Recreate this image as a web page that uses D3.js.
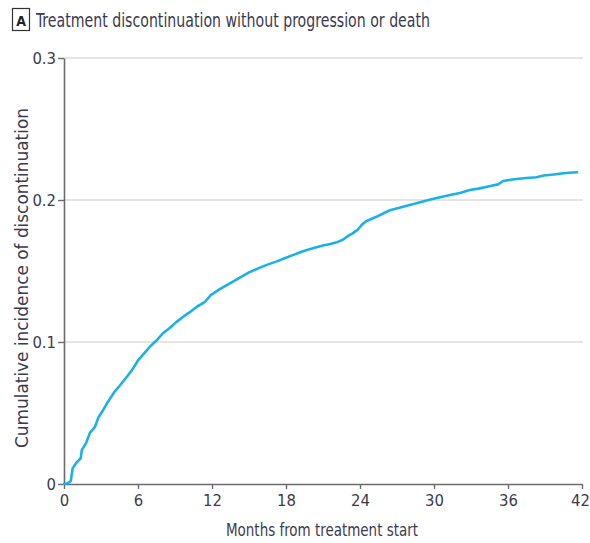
<!DOCTYPE html>
<html>
<head>
<meta charset="utf-8">
<script src="https://cdn.jsdelivr.net/npm/d3@7"></script>
<style>
  html, body { margin: 0; padding: 0; background: #fff; }
  svg { display: block; }
  text { font-family: "DejaVu Sans Condensed", "DejaVu Sans", sans-serif; }
</style>
</head>
<body>
<svg id="chart" width="590" height="543"></svg>
<script>
// Cumulative incidence of treatment discontinuation (months, proportion)
const months = [0, 0.3, 0.55, 0.7, 1.0, 1.35, 1.45, 1.8, 2.1, 2.5, 2.8, 3.1, 3.5, 3.8, 4.1, 4.5,
  5.0, 5.5, 6.0, 6.5, 7.0, 7.5, 8.0, 8.6, 9.1, 9.7, 10.2, 10.8, 11.4, 11.9, 12.6, 13.2, 13.7,
  14.4, 15.0, 15.8, 16.5, 17.2, 17.9, 18.5, 19.1, 19.7, 20.4, 21.0, 21.6, 22.2, 22.6, 23.0,
  23.4, 23.8, 24.2, 24.5, 25.0, 25.4, 26.0, 26.5, 27.2, 27.8, 28.5, 29.1, 29.8, 30.5, 31.3,
  32.1, 32.9, 33.6, 34.4, 35.2, 35.6, 36.2, 36.7, 37.5, 38.3, 38.9, 39.7, 40.5, 41.0, 41.6];
const incidence = [0, 0.0005, 0.002, 0.011, 0.015, 0.018, 0.024, 0.029, 0.036, 0.040, 0.047,
  0.051, 0.057, 0.061, 0.065, 0.069, 0.0745, 0.080, 0.087, 0.092, 0.097, 0.101, 0.106, 0.110,
  0.114, 0.118, 0.121, 0.125, 0.128, 0.133, 0.137, 0.140, 0.1425, 0.146, 0.149, 0.152, 0.1545,
  0.1566, 0.159, 0.161, 0.163, 0.1648, 0.1665, 0.168, 0.169, 0.1705, 0.172, 0.1745, 0.1765,
  0.179, 0.183, 0.185, 0.187, 0.1885, 0.191, 0.193, 0.1945, 0.196, 0.1975, 0.199, 0.2005,
  0.202, 0.2035, 0.205, 0.207, 0.208, 0.2095, 0.211, 0.2134, 0.2142, 0.2148, 0.2155, 0.216,
  0.2172, 0.218, 0.2188, 0.2192, 0.2195];
const xTicks = [0, 6, 12, 18, 24, 30, 36, 42];
const yTicks = [0, 0.1, 0.2, 0.3];
const yTickLabels = ["0", "0.1", "0.2", "0.3"];

const svg = d3.select("#chart");
const plotLeft = 64, plotRight = 582, plotTop = 58, plotBottom = 484;

const x = d3.scaleLinear().domain([0, 42]).range([plotLeft, plotRight]);
const y = d3.scaleLinear().domain([0, 0.3]).range([plotBottom, plotTop]);

const textColor = "#3b3b4f";
const axisColor = "#6b6b6b";

// Panel title with boxed letter
svg.append("rect").attr("x", 12.5).attr("y", 8.5).attr("width", 17).attr("height", 22)
  .attr("fill", "none").attr("stroke", "#333").attr("stroke-width", 1.2);
svg.append("text").attr("x", 21).attr("y", 25.5).attr("text-anchor", "middle")
  .attr("font-size", 14).attr("font-weight", "bold").attr("fill", "#222").text("A");
svg.append("text").attr("x", 36).attr("y", 26.5)
  .attr("font-size", 19.5).attr("fill", textColor)
  .attr("textLength", 394).attr("lengthAdjust", "spacingAndGlyphs")
  .text("Treatment discontinuation without progression or death");

// Horizontal gridlines
svg.append("g").selectAll("line").data(yTicks.slice(1)).join("line")
  .attr("x1", plotLeft).attr("x2", plotRight + 1)
  .attr("y1", d => y(d)).attr("y2", d => y(d))
  .attr("stroke", "#dcdcdc").attr("stroke-width", 1.3);

// Axes
const yAxis = svg.append("g").attr("transform", `translate(${plotLeft},0)`)
  .call(d3.axisLeft(y).tickValues(yTicks).tickFormat((d, i) => yTickLabels[i])
    .tickSizeInner(6).tickSizeOuter(0).tickPadding(2));
const xAxis = svg.append("g").attr("transform", `translate(0,${plotBottom})`)
  .call(d3.axisBottom(x).tickValues(xTicks).tickFormat(d3.format("d"))
    .tickSizeInner(5).tickSizeOuter(0).tickPadding(5));

[yAxis, xAxis].forEach(g => {
  g.select(".domain").attr("stroke", axisColor).attr("stroke-width", 1.6);
  g.selectAll(".tick line").attr("stroke", axisColor).attr("stroke-width", 1.4);
  g.selectAll(".tick text").attr("fill", textColor).attr("font-size", 16.5)
    .style("font-family", '"DejaVu Sans Condensed", "DejaVu Sans", sans-serif');
});
yAxis.selectAll(".tick text").attr("dy", "0.35em");
// Keep the last month label inside the canvas edge
xAxis.selectAll(".tick text").filter(d => d === 42)
  .attr("text-anchor", "end").attr("x", 7.5);

// Axis titles
svg.append("text").attr("x", (plotLeft + plotRight) / 2 - 1).attr("y", 536)
  .attr("text-anchor", "middle").attr("font-size", 18).attr("fill", textColor)
  .attr("textLength", 192).attr("lengthAdjust", "spacingAndGlyphs")
  .text("Months from treatment start");
svg.append("text").attr("transform", "translate(28,278) rotate(-90)")
  .attr("text-anchor", "middle").attr("font-size", 18).attr("fill", textColor)
  .attr("textLength", 340).attr("lengthAdjust", "spacingAndGlyphs")
  .text("Cumulative incidence of discontinuation");

// Cumulative incidence curve
const pts = months.map((m, i) => [m, incidence[i]]);
svg.append("path").datum(pts)
  .attr("fill", "none").attr("stroke", "#1cb0ea").attr("stroke-width", 2.6)
  .attr("stroke-linejoin", "round").attr("stroke-linecap", "round")
  .attr("d", d3.line().x(d => x(d[0])).y(d => y(d[1])).curve(d3.curveLinear));
</script>
</body>
</html>
